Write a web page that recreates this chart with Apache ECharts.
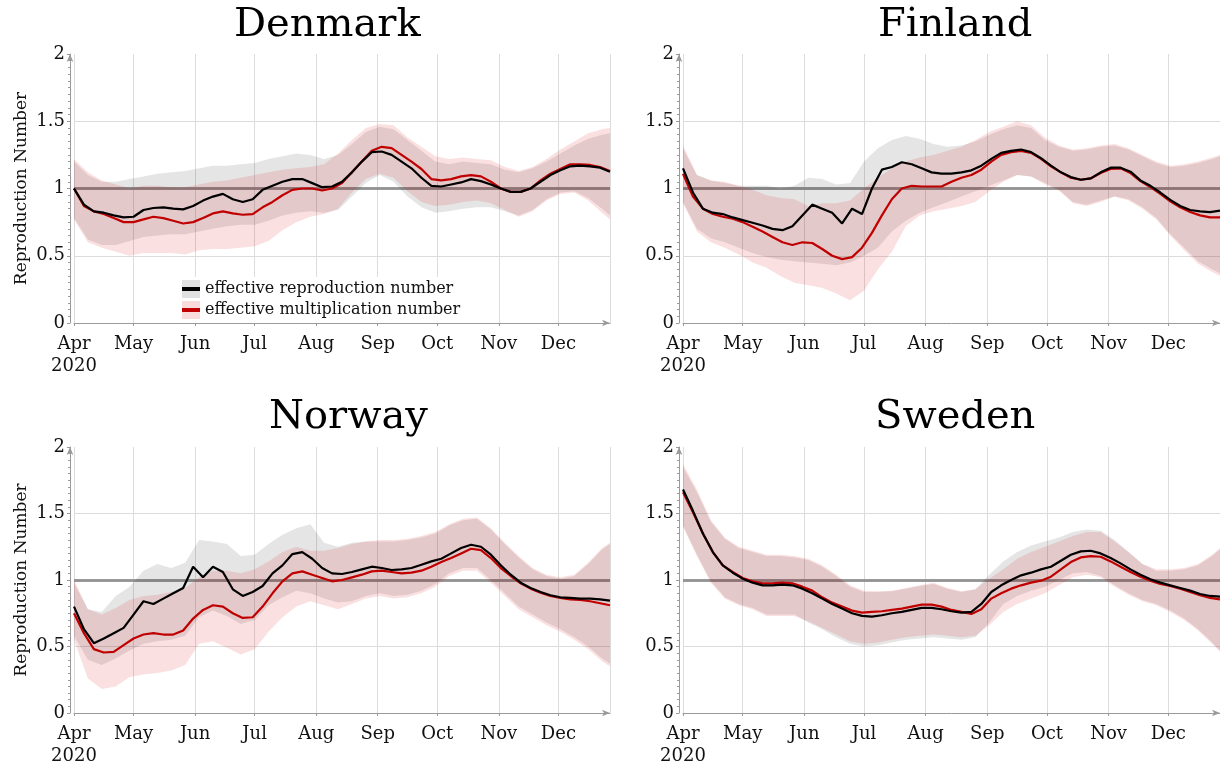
<!DOCTYPE html>
<html>
<head>
<meta charset="utf-8">
<title>Reproduction number 2020</title>
<script src="https://cdn.jsdelivr.net/npm/echarts@6.0.0/dist/echarts.min.js"></script>
<style>
  html, body { margin: 0; padding: 0; background: #fff; }
  #chart { width: 1220px; height: 767px; }
</style>
</head>
<body>
<div id="chart"></div>
<script>
// days after 1 Apr 2020 at which the values were read
const lineDays = [0,5,10,15,20,25,30,35,40,45,50,55,60,65,70,75,80,85,90,95,100,105,110,115,120,125,130,135,140,145,150,155,160,165,170,175,180,185,190,195,200,205,210,215,220,225,230,235,240,245,250,255,260,265,270];
const bandDays = [0,7,14,21,28,35,42,49,56,63,70,77,84,91,98,105,112,119,126,133,140,147,154,161,168,175,182,189,196,203,210,217,224,231,238,245,252,259,266,270];
const monthNames = ['Jan','Feb','Mar','Apr','May','Jun','Jul','Aug','Sep','Oct','Nov','Dec'];
const yearLabel = '2020';
const countries = ['Denmark', 'Finland', 'Norway', 'Sweden'];

// Denmark
const denmarkRepro = [1.00,0.88,0.83,0.82,0.80,0.785,0.79,0.84,0.855,0.86,0.85,0.845,0.87,0.91,0.94,0.96,0.92,0.90,0.92,0.99,1.02,1.05,1.07,1.07,1.04,1.01,1.015,1.05,1.12,1.20,1.27,1.275,1.25,1.20,1.15,1.08,1.02,1.015,1.03,1.045,1.07,1.055,1.03,1.00,0.975,0.975,1.00,1.05,1.10,1.135,1.165,1.17,1.165,1.155,1.125];
const denmarkMult = [1.00,0.87,0.83,0.81,0.78,0.75,0.75,0.77,0.79,0.78,0.76,0.74,0.75,0.78,0.815,0.83,0.815,0.805,0.81,0.86,0.90,0.95,0.99,1.00,1.00,0.985,1.00,1.04,1.12,1.20,1.28,1.31,1.30,1.25,1.20,1.145,1.07,1.06,1.07,1.09,1.10,1.09,1.05,1.00,0.975,0.975,1.00,1.06,1.11,1.145,1.18,1.18,1.175,1.16,1.13];
const denmarkReproLow = [0.78,0.62,0.58,0.58,0.61,0.64,0.65,0.66,0.66,0.68,0.70,0.72,0.73,0.73,0.76,0.80,0.82,0.83,0.82,0.84,0.94,1.04,1.10,1.05,0.94,0.86,0.82,0.83,0.85,0.86,0.86,0.83,0.80,0.84,0.92,0.97,0.98,0.93,0.85,0.80];
const denmarkReproHigh = [1.20,1.10,1.05,1.05,1.07,1.09,1.11,1.12,1.13,1.15,1.17,1.17,1.18,1.19,1.22,1.24,1.26,1.25,1.22,1.25,1.33,1.42,1.46,1.44,1.36,1.28,1.20,1.18,1.20,1.19,1.18,1.14,1.12,1.15,1.20,1.26,1.32,1.37,1.40,1.41];
const denmarkMultLow = [0.77,0.60,0.56,0.53,0.50,0.52,0.52,0.52,0.51,0.54,0.55,0.55,0.56,0.57,0.61,0.69,0.75,0.79,0.81,0.85,0.97,1.07,1.11,1.08,0.98,0.90,0.87,0.88,0.90,0.91,0.89,0.84,0.79,0.83,0.91,0.96,0.97,0.91,0.82,0.77];
const denmarkMultHigh = [1.22,1.12,1.06,1.03,1.00,1.02,1.02,1.01,1.01,1.03,1.05,1.06,1.08,1.10,1.12,1.14,1.15,1.16,1.18,1.26,1.36,1.45,1.48,1.47,1.38,1.31,1.24,1.22,1.23,1.22,1.21,1.16,1.13,1.16,1.22,1.29,1.35,1.41,1.44,1.45];

// Finland
const finlandRepro = [1.15,0.97,0.85,0.82,0.81,0.785,0.765,0.745,0.725,0.70,0.69,0.72,0.80,0.88,0.85,0.82,0.74,0.85,0.81,1.00,1.14,1.16,1.195,1.18,1.15,1.12,1.11,1.11,1.12,1.135,1.17,1.22,1.265,1.28,1.29,1.27,1.225,1.17,1.12,1.085,1.065,1.075,1.12,1.155,1.155,1.125,1.06,1.02,0.97,0.915,0.87,0.84,0.83,0.825,0.835];
const finlandMult = [1.11,0.94,0.85,0.81,0.79,0.775,0.75,0.715,0.68,0.64,0.60,0.58,0.60,0.595,0.55,0.50,0.475,0.49,0.56,0.67,0.80,0.92,1.00,1.02,1.015,1.015,1.015,1.05,1.08,1.10,1.14,1.20,1.25,1.27,1.28,1.265,1.22,1.165,1.12,1.08,1.065,1.075,1.115,1.145,1.15,1.115,1.055,1.01,0.96,0.905,0.86,0.825,0.80,0.785,0.785];
const finlandReproLow = [0.90,0.70,0.63,0.60,0.56,0.52,0.49,0.47,0.46,0.45,0.44,0.43,0.45,0.50,0.56,0.68,0.76,0.82,0.86,0.90,0.94,0.98,1.02,1.06,1.10,1.09,1.04,0.99,0.90,0.88,0.91,0.94,0.92,0.86,0.78,0.66,0.56,0.46,0.40,0.37];
const finlandReproHigh = [1.30,1.10,1.06,1.04,1.02,1.02,1.02,1.00,1.02,1.08,1.07,1.03,1.04,1.20,1.30,1.36,1.39,1.37,1.33,1.31,1.32,1.35,1.40,1.44,1.47,1.45,1.36,1.31,1.28,1.29,1.31,1.32,1.29,1.24,1.19,1.16,1.17,1.19,1.22,1.24];
const finlandMultLow = [0.89,0.68,0.60,0.56,0.51,0.45,0.41,0.35,0.30,0.28,0.26,0.22,0.17,0.24,0.40,0.53,0.72,0.80,0.83,0.85,0.87,0.90,0.98,1.05,1.10,1.09,1.03,0.985,0.89,0.87,0.90,0.94,0.91,0.85,0.77,0.65,0.54,0.44,0.38,0.35];
const finlandMultHigh = [1.32,1.10,1.06,1.05,1.02,0.99,0.95,0.93,0.92,0.87,0.89,0.89,0.91,1.00,1.08,1.15,1.20,1.23,1.25,1.28,1.31,1.36,1.42,1.46,1.50,1.47,1.38,1.32,1.29,1.30,1.32,1.33,1.30,1.25,1.20,1.17,1.18,1.20,1.23,1.25];

// Norway
const norwayRepro = [0.80,0.63,0.525,0.56,0.60,0.64,0.74,0.84,0.82,0.86,0.90,0.94,1.10,1.02,1.10,1.06,0.93,0.88,0.91,0.955,1.05,1.11,1.195,1.21,1.16,1.09,1.05,1.045,1.06,1.08,1.10,1.09,1.075,1.08,1.09,1.115,1.14,1.16,1.20,1.24,1.265,1.25,1.19,1.11,1.04,0.98,0.94,0.91,0.885,0.87,0.865,0.86,0.86,0.855,0.845];
const norwayMult = [0.75,0.60,0.48,0.455,0.46,0.51,0.56,0.59,0.60,0.59,0.59,0.62,0.71,0.775,0.81,0.80,0.75,0.715,0.72,0.80,0.90,0.99,1.05,1.065,1.04,1.015,0.99,1.00,1.02,1.04,1.065,1.07,1.06,1.05,1.055,1.07,1.10,1.135,1.165,1.20,1.235,1.225,1.165,1.09,1.03,0.975,0.935,0.905,0.88,0.865,0.855,0.85,0.84,0.825,0.81];
const norwayReproLow = [0.58,0.40,0.36,0.41,0.47,0.52,0.54,0.55,0.58,0.72,0.77,0.73,0.67,0.70,0.81,0.87,0.92,0.90,0.86,0.83,0.84,0.88,0.90,0.88,0.89,0.92,0.97,1.05,1.09,1.09,1.00,0.90,0.80,0.74,0.68,0.63,0.57,0.50,0.41,0.37];
const norwayReproHigh = [0.98,0.78,0.76,0.88,0.95,1.07,1.12,1.09,1.13,1.30,1.29,1.27,1.18,1.19,1.27,1.34,1.39,1.42,1.28,1.25,1.28,1.29,1.29,1.29,1.30,1.32,1.35,1.41,1.45,1.46,1.38,1.27,1.17,1.08,1.03,1.01,1.03,1.12,1.23,1.27];
const norwayMultLow = [0.55,0.26,0.18,0.20,0.27,0.29,0.30,0.32,0.36,0.52,0.54,0.49,0.44,0.48,0.61,0.72,0.80,0.84,0.81,0.78,0.82,0.86,0.88,0.86,0.87,0.90,0.95,1.03,1.07,1.07,0.98,0.88,0.78,0.72,0.66,0.61,0.55,0.48,0.39,0.35];
const norwayMultHigh = [1.00,0.78,0.74,0.79,0.85,0.88,0.89,0.91,0.94,1.02,1.07,1.07,1.05,1.08,1.14,1.21,1.25,1.22,1.22,1.24,1.27,1.29,1.30,1.30,1.31,1.33,1.36,1.42,1.46,1.47,1.39,1.28,1.18,1.09,1.04,1.02,1.04,1.13,1.24,1.28];

// Sweden
const swedenRepro = [1.68,1.52,1.35,1.21,1.11,1.055,1.01,0.98,0.96,0.96,0.965,0.96,0.935,0.90,0.86,0.82,0.785,0.75,0.73,0.725,0.735,0.75,0.76,0.775,0.79,0.79,0.78,0.765,0.755,0.76,0.82,0.91,0.96,1.00,1.035,1.055,1.08,1.10,1.145,1.19,1.215,1.22,1.20,1.165,1.125,1.08,1.04,1.005,0.98,0.96,0.94,0.92,0.895,0.88,0.875];
const swedenMult = [1.66,1.51,1.35,1.21,1.11,1.06,1.015,0.99,0.975,0.975,0.98,0.975,0.95,0.92,0.87,0.83,0.80,0.77,0.755,0.76,0.765,0.775,0.785,0.80,0.815,0.815,0.80,0.775,0.76,0.745,0.78,0.86,0.90,0.935,0.96,0.98,0.995,1.025,1.08,1.135,1.17,1.18,1.175,1.14,1.10,1.06,1.025,0.995,0.97,0.955,0.935,0.91,0.885,0.865,0.855];
const swedenReproLow = [1.41,1.19,0.99,0.87,0.82,0.79,0.74,0.74,0.74,0.68,0.63,0.57,0.52,0.50,0.51,0.53,0.55,0.56,0.57,0.56,0.55,0.57,0.68,0.82,0.88,0.92,0.95,1.00,1.05,1.06,1.03,0.96,0.90,0.85,0.82,0.77,0.71,0.63,0.53,0.47];
const swedenReproHigh = [1.85,1.66,1.44,1.31,1.24,1.21,1.18,1.18,1.17,1.15,1.10,1.03,0.95,0.91,0.91,0.915,0.935,0.955,0.97,0.935,0.91,0.93,1.04,1.14,1.21,1.26,1.29,1.32,1.36,1.38,1.37,1.30,1.21,1.12,1.07,1.07,1.08,1.11,1.18,1.23];
const swedenMultLow = [1.40,1.18,0.98,0.86,0.81,0.78,0.73,0.73,0.73,0.69,0.64,0.59,0.54,0.52,0.53,0.55,0.57,0.58,0.59,0.58,0.57,0.58,0.66,0.76,0.82,0.86,0.90,0.96,1.02,1.04,1.02,0.95,0.89,0.84,0.81,0.76,0.70,0.62,0.52,0.46];
const swedenMultHigh = [1.87,1.68,1.45,1.32,1.25,1.22,1.19,1.19,1.18,1.16,1.11,1.04,0.96,0.92,0.915,0.92,0.94,0.96,0.98,0.94,0.915,0.93,1.01,1.08,1.16,1.21,1.25,1.29,1.33,1.36,1.36,1.29,1.21,1.12,1.08,1.08,1.09,1.12,1.19,1.24];

const panelData = [
  [denmarkRepro, denmarkMult, denmarkReproLow, denmarkReproHigh, denmarkMultLow, denmarkMultHigh],
  [finlandRepro, finlandMult, finlandReproLow, finlandReproHigh, finlandMultLow, finlandMultHigh],
  [norwayRepro, norwayMult, norwayReproLow, norwayReproHigh, norwayMultLow, norwayMultHigh],
  [swedenRepro, swedenMult, swedenReproLow, swedenReproHigh, swedenMultLow, swedenMultHigh]
];

const FONT = 'DejaVu Serif';
const DAY = 24 * 3600 * 1000;
const GREY_BAND = 'rgba(0,0,0,0.1)';
const PINK_BAND = 'rgba(215,0,0,0.12)';
const startTime = +new Date(2020, 3, 1);
const endTime = +new Date(2020, 3, 1 + 270);

function dayTime(d) {
  return +new Date(2020, 3, 1 + d);
}
function pairs(days, vals) {
  return days.map((d, i) => [dayTime(d), vals[i]]);
}
function widths(days, lo, hi) {
  return days.map((d, i) => [dayTime(d), +(hi[i] - lo[i]).toFixed(3)]);
}

const grids = [
  { left: 74, top: 54, width: 536, height: 269 },
  { left: 683, top: 54, width: 537, height: 269 },
  { left: 74, top: 447, width: 536, height: 267 },
  { left: 683, top: 447, width: 537, height: 267 }
];
const titlePos = [[229, 1], [873, 1], [264, 393], [870, 393]];

const xAxes = [], yAxes = [], series = [], titles = [];
countries.forEach((c, i) => {
  titles.push({
    text: c, left: titlePos[i][0], top: titlePos[i][1],
    textStyle: { fontFamily: FONT, fontSize: 40, fontWeight: 'normal', color: '#000' }
  });
  xAxes.push({
    type: 'time', gridIndex: i, min: startTime, max: endTime, offset: 4,
    splitNumber: 9, minInterval: 28 * DAY, maxInterval: 31 * DAY,
    axisLine: { show: true, lineStyle: { color: '#9a9a9a' }, symbol: ['none', 'arrow'], symbolSize: [5, 8] },
    axisTick: { show: true, length: 3, lineStyle: { color: '#9a9a9a' } },
    axisLabel: {
      color: '#111', fontFamily: FONT, fontSize: 18, margin: 6, lineHeight: 22,
      formatter: function (v) {
        const d = new Date(v);
        const m = monthNames[d.getMonth()];
        return d.getMonth() === 3 ? m + '\n' + yearLabel : m;
      }
    },
    splitLine: { show: true, lineStyle: { color: '#dcdcdc' } }
  });
  yAxes.push({
    type: 'value', gridIndex: i, min: 0, max: 2, interval: 0.5, offset: 4,
    name: i % 2 === 0 ? 'Reproduction Number' : '',
    nameLocation: 'middle', nameGap: 40,
    nameTextStyle: { fontFamily: FONT, fontSize: 17, color: '#111' },
    axisLine: { show: true, lineStyle: { color: '#9a9a9a' }, symbol: ['none', 'arrow'], symbolSize: [5, 8] },
    axisTick: { show: true, length: 3, lineStyle: { color: '#9a9a9a' } },
    minorTick: { show: true, splitNumber: 10, length: 2, lineStyle: { color: '#9a9a9a' } },
    axisLabel: { color: '#111', fontFamily: FONT, fontSize: 18, margin: 5 },
    splitLine: { show: true, showMinLine: false, showMaxLine: false, lineStyle: { color: '#dcdcdc' } }
  });

  const [repro, mult, rLo, rHi, mLo, mHi] = panelData[i];
  const base = { type: 'line', xAxisIndex: i, yAxisIndex: i, symbol: 'none', silent: true };
  series.push(Object.assign({}, base, {
    stack: 'repro' + i, data: pairs(bandDays, rLo), lineStyle: { opacity: 0 }
  }));
  series.push(Object.assign({}, base, {
    name: 'reproduction interval', stack: 'repro' + i, data: widths(bandDays, rLo, rHi),
    lineStyle: { opacity: 0 }, itemStyle: { color: GREY_BAND },
    areaStyle: { color: GREY_BAND, opacity: 1 }
  }));
  series.push(Object.assign({}, base, {
    stack: 'mult' + i, data: pairs(bandDays, mLo), lineStyle: { opacity: 0 }
  }));
  series.push(Object.assign({}, base, {
    name: 'multiplication interval', stack: 'mult' + i, data: widths(bandDays, mLo, mHi),
    lineStyle: { opacity: 0 }, itemStyle: { color: PINK_BAND },
    areaStyle: { color: PINK_BAND, opacity: 1 },
    markLine: {
      silent: true, z: 2, symbol: ['none', 'none'], label: { show: false },
      lineStyle: { color: '#888', width: 3, type: 'solid', opacity: 0.85 },
      data: [{ yAxis: 1 }]
    }
  }));
  series.push(Object.assign({}, base, {
    name: 'effective multiplication number', z: 3, data: pairs(lineDays, mult),
    itemStyle: { color: '#c00000' }, lineStyle: { color: '#c00000', width: 2.2 }
  }));
  series.push(Object.assign({}, base, {
    name: 'effective reproduction number', z: 3, data: pairs(lineDays, repro),
    itemStyle: { color: '#000' }, lineStyle: { color: '#000', width: 2.2 }
  }));
});

const chart = echarts.init(document.getElementById('chart'));
chart.setOption({
  animation: false,
  backgroundColor: '#fff',
  title: titles,
  grid: grids,
  xAxis: xAxes,
  yAxis: yAxes,
  legend: [
    {
      data: [
        { name: 'reproduction interval', icon: 'rect', itemStyle: { color: 'rgba(0,0,0,0.12)' } },
        { name: 'multiplication interval', icon: 'rect', itemStyle: { color: 'rgba(215,0,0,0.14)' } }
      ],
      orient: 'vertical', left: 150, top: 277, padding: [2, 262, 3, 32],
      itemWidth: 18, itemHeight: 18, itemGap: 1,
      formatter: function () { return ' '; },
      textStyle: { fontFamily: FONT, fontSize: 16, lineHeight: 20 },
      backgroundColor: '#fff', selectedMode: false, z: 4
    },
    {
      data: [
        { name: 'effective reproduction number', icon: 'rect', itemStyle: { color: '#000' } },
        { name: 'effective multiplication number', icon: 'rect', itemStyle: { color: '#c00000' } }
      ],
      orient: 'vertical', left: 182, top: 279, padding: 0,
      itemWidth: 18, itemHeight: 4, itemGap: 1,
      textStyle: { fontFamily: FONT, fontSize: 16, lineHeight: 20, color: '#111' },
      selectedMode: false, z: 5
    }
  ],
  series: series
});
</script>
</body>
</html>
